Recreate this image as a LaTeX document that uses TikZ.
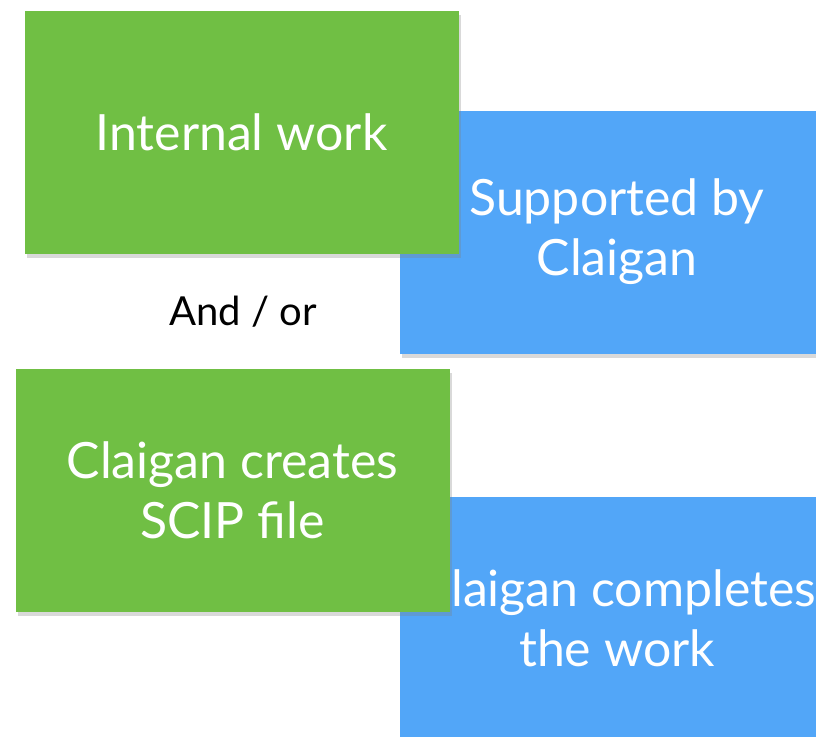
\documentclass[tikz,border=0pt]{standalone}
\usepackage{fontspec}
\setmainfont{Lato}
\usetikzlibrary{shadows}
\definecolor{claigreen}{HTML}{70BF44}
\definecolor{claiblue}{HTML}{52A6F8}
\tikzset{
    tile/.style={minimum width=434pt, minimum height=243pt, inner sep=0pt,
        text=white, align=center, font=\fontsize{50}{60}\selectfont,
        drop shadow={shadow xshift=2pt, shadow yshift=-4pt, opacity=0.3}},
    greentile/.style={tile, fill=claigreen},
    bluetile/.style={tile, fill=claiblue}
}
\begin{document}
\begin{tikzpicture}[x=1pt,y=-1pt]
        \useasboundingbox (0,0) rectangle (816,736);
        \clip (0,0) rectangle (816,736);

        % blue tiles first, the green ones lie on top
        \node[bluetile] (support) at (617,232) {Supported by\\Claigan};
        \node[bluetile] (complete) at (617,618) {Claigan completes\\the work};

        \node[greentile] (internal) at (241.5,132) {Internal work};
        \node[greentile] (scip) at (232.5,490) {Claigan creates\\SCIP file};

        \node[font=\fontsize{40}{44}\selectfont] (andor) at (243,312) {And / or};
\end{tikzpicture}
\end{document}
